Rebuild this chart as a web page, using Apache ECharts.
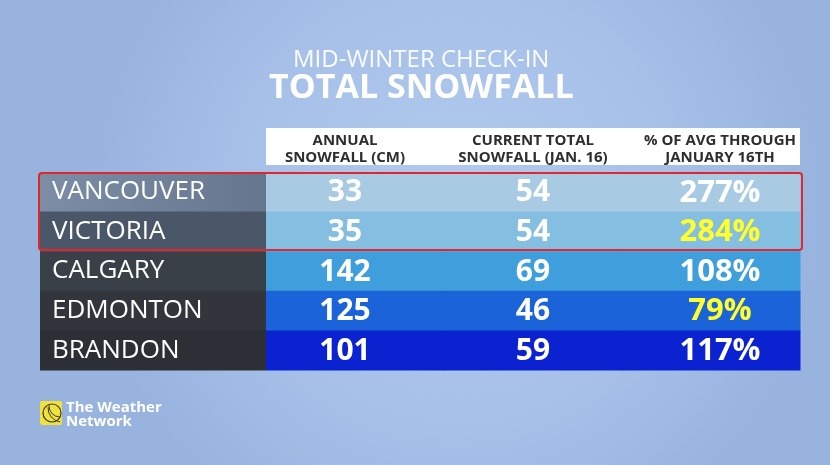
<!DOCTYPE html>
<html>
<head>
<meta charset="utf-8">
<style>
  html, body { margin: 0; padding: 0; }
  #chart { width: 830px; height: 465px; }
</style>
<script src="https://cdn.jsdelivr.net/npm/echarts@6/dist/echarts.min.js"></script>
</head>
<body>
<div id="chart"></div>
<script>
// table values
const cities = ['VANCOUVER', 'VICTORIA', 'CALGARY', 'EDMONTON', 'BRANDON'];
const columns = ['ANNUAL\nSNOWFALL (CM)', 'CURRENT TOTAL\nSNOWFALL (JAN. 16)', '% OF AVG THROUGH\nJANUARY 16TH'];
const annual = [33, 35, 142, 125, 101];
const current = [54, 54, 69, 46, 59];
const pctOfAvg = [277, 284, 108, 79, 117];

// row styling
const labelColors = ['#6e8199', '#4a5768', '#3a4048', '#32363c', '#2c2f35'];
const cellColors = ['#a8cbe3', '#84bee1', '#3f9edc', '#1a63d8', '#0a22d0'];
const pctTextColors = ['#ffffff', '#ffff2e', '#ffffff', '#ffff2e', '#ffffff'];
const colTextShift = [-10, 0, 9];

const font = '"Open Sans", "DejaVu Sans", sans-serif';

const chart = echarts.init(document.getElementById('chart'));

// one data item per cell: [column, row, text]
const valueCells = [];
cities.forEach((c, i) => {
    valueCells.push([0, i, String(annual[i])]);
    valueCells.push([1, i, String(current[i])]);
    valueCells.push([2, i, pctOfAvg[i] + '%']);
});

function cellRect(api) {
    const p = api.coord([api.value(0), api.value(1)]);
    const s = api.size([1, 1]);
    return { x: p[0] - s[0] / 2, y: p[1] - s[1] / 2, width: s[0], height: s[1] + 0.5, cx: p[0], cy: p[1] };
}

const headStyle = { color: '#2e2e2e', fontFamily: font, fontWeight: 'bold', fontSize: 15, lineHeight: 17 };

const option = {
    backgroundColor: {
        type: 'radial', x: 0.55, y: 0.45, r: 0.8,
        colorStops: [
            { offset: 0, color: '#b2caee' },
            { offset: 0.6, color: '#a6c0e8' },
            { offset: 1, color: '#97b3de' }
        ]
    },
    title: [
        {
            text: 'MID-WINTER CHECK-IN',
            left: 288, top: 43,
            textStyle: { color: 'rgba(255,255,255,0.95)', fontFamily: font, fontWeight: 'normal', fontSize: 24 }
        },
        {
            text: 'TOTAL SNOWFALL',
            left: 264, top: 66,
            textStyle: { color: '#ffffff', fontFamily: font, fontWeight: 'bold', fontSize: 34 }
        }
    ],
    grid: [
        { left: 40, top: 172, width: 226, height: 198 },
        { left: 266, top: 172, width: 534, height: 198 }
    ],
    xAxis: [
        { type: 'category', gridIndex: 0, data: ['CITY'], show: false },
        {
            type: 'category', gridIndex: 1, data: columns, position: 'top',
            axisLine: { show: false }, axisTick: { show: false },
            axisLabel: {
                margin: 6, interval: 0,
                formatter: function (v, i) {
                    return v.split('\n').map(s => '{c' + i + '|' + s + '}').join('\n');
                },
                rich: {
                    c0: Object.assign({ padding: [0, 20, 0, 0] }, headStyle),
                    c1: Object.assign({}, headStyle),
                    c2: Object.assign({ padding: [0, 0, 0, 18] }, headStyle)
                }
            }
        }
    ],
    yAxis: [
        { type: 'category', gridIndex: 0, data: cities, inverse: true, show: false },
        { type: 'category', gridIndex: 1, data: cities, inverse: true, show: false }
    ],
    graphic: [
        { type: 'rect', z: -1, shape: { x: 266, y: 128, width: 534, height: 37 }, style: { fill: '#ffffff' } },
        {
            type: 'rect', z: 100,
            shape: { x: 39, y: 173, width: 763, height: 77, r: 3 },
            style: { fill: null, stroke: '#e3262b', lineWidth: 2 }
        },
        // logo
        { type: 'rect', shape: { x: 40, y: 401, width: 22, height: 24, r: 2 }, style: { fill: '#f0e13c' } },
        { type: 'circle', shape: { cx: 52, cy: 413, r: 9 }, style: { fill: null, stroke: '#3b3b2a', lineWidth: 1.2 } },
        { type: 'arc', shape: { cx: 60, cy: 406, r: 11, startAngle: 1.6, endAngle: 3.3 }, style: { fill: null, stroke: '#3b3b2a', lineWidth: 1 } },
        { type: 'arc', shape: { cx: 62, cy: 408, r: 14, startAngle: 1.7, endAngle: 3.2 }, style: { fill: null, stroke: '#3b3b2a', lineWidth: 1 } },
        {
            type: 'text', left: 66, top: 400,
            style: { text: 'The Weather\nNetwork', fill: '#ffffff', font: 'bold 15px ' + font, lineHeight: 14 }
        }
    ],
    series: [
        {
            type: 'custom',
            xAxisIndex: 0, yAxisIndex: 0,
            data: cities.map((c, i) => [0, i]),
            renderItem: function (params, api) {
                const r = cellRect(api);
                const i = params.dataIndex;
                const fill = i === 0
                    ? new echarts.graphic.LinearGradient(0, 0, 1, 0, [
                        { offset: 0, color: '#7b8ea6' }, { offset: 1, color: '#65778e' }])
                    : labelColors[i];
                return {
                    type: 'group',
                    children: [
                        { type: 'rect', shape: { x: r.x, y: r.y, width: r.width, height: r.height }, style: { fill: fill } },
                        {
                            type: 'text',
                            style: {
                                x: r.x + 12, y: r.cy, text: cities[i],
                                fill: '#ffffff', font: '26px ' + font,
                                align: 'left', verticalAlign: 'middle'
                            }
                        }
                    ]
                };
            }
        },
        {
            type: 'custom',
            xAxisIndex: 1, yAxisIndex: 1,
            data: valueCells.map(d => [d[0], d[1]]),
            renderItem: function (params, api) {
                const r = cellRect(api);
                const cell = valueCells[params.dataIndex];
                const col = cell[0], row = cell[1];
                return {
                    type: 'group',
                    children: [
                        { type: 'rect', shape: { x: r.x, y: r.y, width: r.width + 0.5, height: r.height }, style: { fill: cellColors[row] } },
                        {
                            type: 'text',
                            style: {
                                x: r.cx + colTextShift[col], y: r.cy + 1, text: cell[2],
                                fill: col === 2 ? pctTextColors[row] : '#ffffff',
                                font: 'bold ' + (col === 2 ? 31 : 30) + 'px ' + font,
                                align: 'center', verticalAlign: 'middle'
                            }
                        }
                    ]
                };
            }
        }
    ]
};

chart.setOption(option);
</script>
</body>
</html>
